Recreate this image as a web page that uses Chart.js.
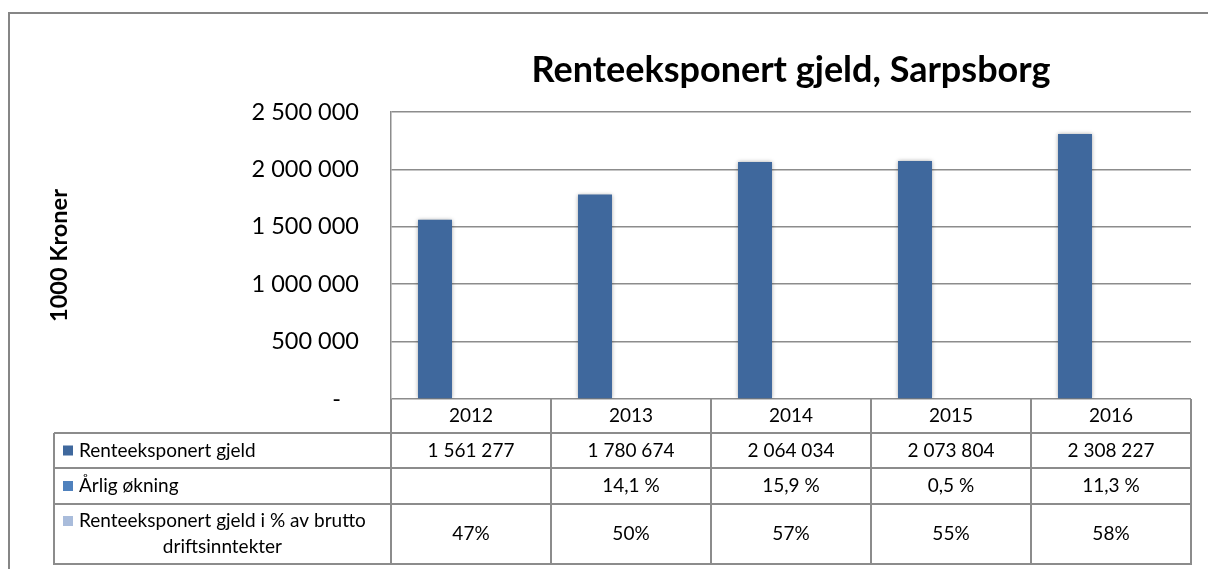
<!DOCTYPE html>
<html><head><meta charset="utf-8">
<script src="https://cdn.jsdelivr.net/npm/chart.js@4.4.1/dist/chart.umd.min.js"></script>
<style>html,body{margin:0;padding:0;background:#fff;}#wrap{position:relative;width:1208px;height:569px;}</style>
</head><body><div id="wrap"><canvas id="c" width="1208" height="569"></canvas></div>
<script>
const years = ['2012', '2013', '2014', '2015', '2016'];
const gjeld = [1561277, 1780674, 2064034, 2073804, 2308227];
const okning = [null, 0.141, 0.159, 0.005, 0.113];
const andel = [0.47, 0.50, 0.57, 0.55, 0.58];
const seriesNames = ['Renteeksponert gjeld', 'Årlig økning', 'Renteeksponert gjeld i % av brutto driftsinntekter'];
const seriesColors = ['#3F689D', '#4F81BD', '#A9BCDB'];
const yTicks = [0, 500000, 1000000, 1500000, 2000000, 2500000];
const titleText = 'Renteeksponert gjeld, Sarpsborg';
const yTitle = '1000 Kroner';

const FONT = 'Lato, "Open Sans", sans-serif';
const GRID = '#8c8c8c';

function fmtThousands(v) { return String(v).replace(/\B(?=(\d{3})+(?!\d))/g, ' '); }
function fmtTick(v) { return v === 0 ? '-   ' : fmtThousands(v); }
function fmtOkning(v) { return v == null ? '' : (v * 100).toFixed(1).replace('.', ',') + ' %'; }
function fmtAndel(v) { return v == null ? '' : Math.round(v * 100) + '%'; }
const tableRows = [
  { values: gjeld, fmt: fmtThousands },
  { values: okning, fmt: fmtOkning },
  { values: andel, fmt: fmtAndel }
];

const framePlugin = {
  id: 'frame',
  beforeDraw(chart) {
    const ctx = chart.ctx;
    ctx.save();
    ctx.strokeStyle = '#868686';
    ctx.lineWidth = 2;
    ctx.beginPath();
    ctx.moveTo(8, 13); ctx.lineTo(1208, 13);
    ctx.moveTo(9, 13); ctx.lineTo(9, 569);
    ctx.stroke();
    ctx.restore();
  }
};

const shadowPlugin = {
  id: 'barShadow',
  beforeDatasetDraw(chart, args) {
    const ctx = chart.ctx;
    ctx.save();
    if (args.index === 0) {
      ctx.shadowColor = 'rgba(0,0,0,0.35)';
      ctx.shadowBlur = 4;
      ctx.shadowOffsetX = 0;
      ctx.shadowOffsetY = 0;
    }
  },
  afterDatasetDraw(chart) { chart.ctx.restore(); }
};

const tablePlugin = {
  id: 'dataTable',
  afterDraw(chart) {
    const { ctx, chartArea: a, scales: { x } } = chart;
    const n = years.length;
    const cw = (a.right - a.left) / n;
    const rows = [a.bottom, a.bottom + 34, a.bottom + 69, a.bottom + 105, a.bottom + 165];
    const legLeft = 54;
    ctx.save();
    ctx.strokeStyle = GRID;
    ctx.lineWidth = 2;
    ctx.beginPath();
    for (let r = 1; r < rows.length; r++) { ctx.moveTo(legLeft, rows[r]); ctx.lineTo(a.right + 1, rows[r]); }
    for (let i = 0; i <= n; i++) { const px = a.left + i * cw; ctx.moveTo(px, rows[0]); ctx.lineTo(px, rows[4] + 1); }
    ctx.moveTo(legLeft, rows[1]); ctx.lineTo(legLeft, rows[4] + 1);
    ctx.stroke();

    ctx.fillStyle = '#000';
    ctx.font = '19px ' + FONT;
    ctx.textBaseline = 'middle';
    ctx.textAlign = 'center';
    years.forEach((y, i) => ctx.fillText(y, x.getPixelForValue(i), (rows[0] + rows[1]) / 2));
    tableRows.forEach((row, r) => {
      const cy = (rows[r + 1] + rows[r + 2]) / 2;
      row.values.forEach((v, i) => {
        ctx.textAlign = 'center';
        ctx.fillText(row.fmt(v), x.getPixelForValue(i), cy);
      });
      const textLeft = 79;
      const maxW = a.left - textLeft - 8;
      const words = seriesNames[r].split(' ');
      const lines = [];
      let cur = '';
      words.forEach(w => {
        const t = cur ? cur + ' ' + w : w;
        if (ctx.measureText(t).width > maxW && cur) { lines.push(cur); cur = w; } else cur = t;
      });
      lines.push(cur);
      const lh = 26;
      const y0 = cy - (lines.length - 1) * lh / 2;
      ctx.fillStyle = seriesColors[r];
      ctx.fillRect(63, y0 - 5, 10, 10);
      ctx.fillStyle = '#000';
      if (lines.length === 1) {
        ctx.textAlign = 'left';
        ctx.fillText(lines[0], textLeft, y0);
      } else {
        const bw = Math.max(...lines.map(l => ctx.measureText(l).width));
        ctx.textAlign = 'center';
        lines.forEach((l, k) => ctx.fillText(l, textLeft + bw / 2, y0 + k * lh));
      }
    });
    ctx.restore();
  }
};

new Chart(document.getElementById('c'), {
  type: 'bar',
  data: {
    labels: years,
    datasets: [
      { label: seriesNames[0], data: gjeld, backgroundColor: seriesColors[0], borderWidth: 0 },
      // percentage series share the same axis; at this scale they are invisible, as in the reference
      { label: seriesNames[1], data: okning, backgroundColor: 'rgba(0,0,0,0)', borderWidth: 0, inflateAmount: 0 },
      { label: seriesNames[2], data: andel, backgroundColor: 'rgba(0,0,0,0)', borderWidth: 0, inflateAmount: 0 }
    ]
  },
  options: {
    responsive: false,
    animation: false,
    categoryPercentage: 0.675,
    barPercentage: 0.944,
    layout: { padding: { top: 14, left: 0, right: 17, bottom: 170 } },
    plugins: {
      legend: { display: false },
      tooltip: { enabled: false },
      title: {
        display: true, text: titleText, fullSize: false, color: '#000',
        font: { family: FONT, size: 36, weight: 'bold' },
        padding: { top: 35, bottom: 19.8 }
      }
    },
    scales: {
      x: { display: false },
      y: {
        min: 0, max: 2500000,
        afterBuildTicks: s => { s.ticks = yTicks.map(v => ({ value: v })); },
        afterFit: s => { s.width = 391; },
        ticks: { callback: v => fmtTick(v), color: '#000', font: { family: FONT, size: 23.5 }, padding: 32 },
        grid: { color: GRID, lineWidth: 1.5, drawTicks: false },
        border: { color: GRID, width: 1.5 },
        title: { display: true, text: yTitle, color: '#000', font: { family: FONT, size: 23.5, weight: 'bold' }, padding: { top: 45, bottom: 0 } }
      }
    }
  },
  plugins: [framePlugin, shadowPlugin, tablePlugin]
});
</script>
</body></html>
